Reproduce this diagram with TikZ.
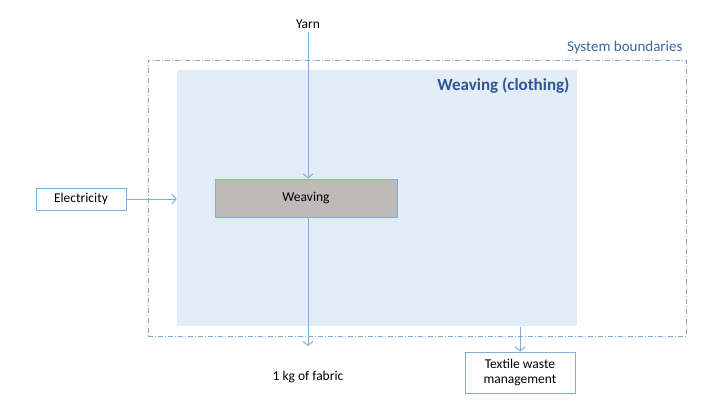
\documentclass[tikz,border=0pt]{standalone}
\usepackage{fontspec}
\setmainfont{Carlito}
\usetikzlibrary{arrows.meta}
\definecolor{flow}{HTML}{7EAEDB}
\definecolor{areafill}{HTML}{E3EDF8}
\definecolor{boxgray}{HTML}{BEBABA}
\definecolor{titleblue}{HTML}{2F5597}
\begin{document}
\begin{tikzpicture}[x=1pt,y=-1pt,line width=1pt] % y runs downward, units in px
\tikzstyle{box}=[draw=flow,fill=white,inner sep=0pt,align=center,font=\fontsize{13.5}{15}\selectfont]
\tikzstyle{plain}=[inner sep=0pt,font=\fontsize{13.5}{15}\selectfont]
\tikzstyle{flowto}=[draw=flow,-{Straight Barb[length=4pt,width=10pt]}]
\useasboundingbox (0,0) rectangle (728,401);

\draw (417,198) node[draw=flow!90!gray,dash pattern=on 5pt off 2pt on 1pt off 2pt,line width=.7pt,minimum width=538,minimum height=276,inner sep=0pt] (sys) {}; % system boundaries
\draw (683,48) node[anchor=east,inner sep=0pt,text=titleblue!80!flow,font=\fontsize{15}{17}\selectfont] (syslabel) {System boundaries}; % label
\draw (377,198) node[fill=areafill,minimum width=400,minimum height=256,inner sep=0pt] (area) {}; % process area
\draw (570,86) node[anchor=east,inner sep=0pt,text=titleblue,font=\fontsize{17}{19}\selectfont\bfseries] (arealabel) {Weaving (clothing)}; % label

\draw (306,198) node[box,fill=boxgray,minimum width=182,minimum height=38] (weaving) {Weaving}; % main process
\draw (81,199) node[box,minimum width=90,minimum height=22] (elec) {Electricity}; % input
\draw (520,372.5) node[box,minimum width=110,minimum height=41] (waste) {Textile waste\\management}; % waste
\draw (308,24) node[plain] (yarn) {Yarn}; % input
\draw (308,377) node[plain] (fabric) {1 kg of fabric}; % output
\coordinate (fabrictip) at (308,346);

% flows
\draw[flowto] (yarn.south |- 0,32) -- (yarn.south |- weaving.north);
\draw[flowto] (elec.east) -- (area.west |- elec.east);
\draw[flowto] (fabrictip |- weaving.south) -- (fabrictip);
\draw[flowto] (waste.north |- area.south) -- (waste.north);
\end{tikzpicture}
\end{document}
